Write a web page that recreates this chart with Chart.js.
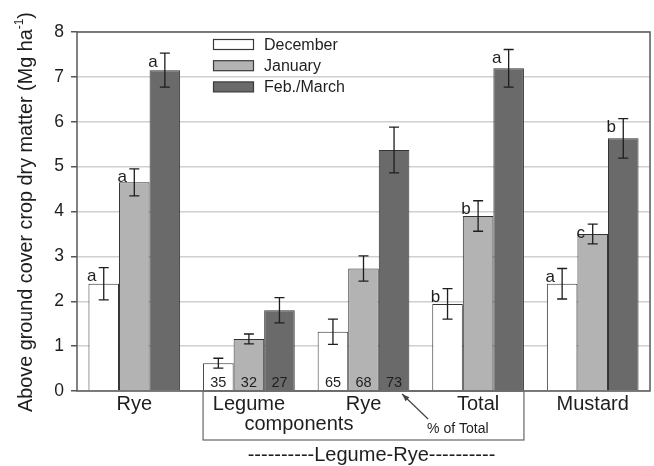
<!DOCTYPE html>
<html>
<head>
<meta charset="utf-8">
<script src="https://cdn.jsdelivr.net/npm/chart.js@4.4.0/dist/chart.umd.min.js"></script>
<style>
  html, body { margin: 0; padding: 0; background: #fff; }
  #wrap { width: 654px; height: 466px; }
</style>
</head>
<body>
<div id="wrap"><canvas id="chart" width="654" height="466"></canvas></div>
<script>
const categories = ["Rye", "Legume", "Rye", "Total", "Mustard"];
const subLabel = "components";
const groupLabel = "----------Legume-Rye----------";
const seriesNames = ["December", "January", "Feb./March"];
const decValues = [2.39, 0.62, 1.32, 1.94, 2.39];
const janValues = [4.65, 1.16, 2.73, 3.90, 3.50];
const febValues = [7.15, 1.80, 5.37, 7.19, 5.63];
const decErrors = [0.36, 0.11, 0.28, 0.34, 0.34];
const janErrors = [0.30, 0.11, 0.28, 0.34, 0.22];
const febErrors = [0.38, 0.28, 0.51, 0.42, 0.44];
const decLetters = ["a", "", "", "b", "a"];
const janLetters = ["a", "", "", "b", "c"];
const febLetters = ["a", "", "", "a", "b"];
const decPercent = ["", "35", "65", "", ""];
const janPercent = ["", "32", "68", "", ""];
const febPercent = ["", "27", "73", "", ""];
const yMin = 0, yMax = 8, yStep = 1;

const FONT = "'Liberation Sans', Arial, sans-serif";
const INK = "#1e1e1e";
const fills = ["#ffffff", "#b3b3b3", "#6a6a6a"];
const errors = [decErrors, janErrors, febErrors];
const letters = [decLetters, janLetters, febLetters];
const percents = [decPercent, janPercent, febPercent];

// error bars, significance letters, % of total numbers
const barExtras = {
  id: "barExtras",
  afterDatasetsDraw(chart) {
    const ctx = chart.ctx;
    const y = chart.scales.y;
    const area = chart.chartArea;
    ctx.save();
    chart.data.datasets.forEach((ds, di) => {
      chart.getDatasetMeta(di).data.forEach((bar, i) => {
        const v = ds.data[i], e = errors[di][i];
        const top = y.getPixelForValue(v + e);
        const bot = y.getPixelForValue(v - e);
        ctx.strokeStyle = INK;
        ctx.lineWidth = 1.3;
        ctx.beginPath();
        ctx.moveTo(bar.x, top); ctx.lineTo(bar.x, bot);
        ctx.moveTo(bar.x - 5, top); ctx.lineTo(bar.x + 5, top);
        ctx.moveTo(bar.x - 5, bot); ctx.lineTo(bar.x + 5, bot);
        ctx.stroke();
        ctx.fillStyle = INK;
        ctx.textAlign = "center";
        ctx.textBaseline = "alphabetic";
        if (letters[di][i]) {
          ctx.font = "17px " + FONT;
          ctx.fillText(letters[di][i], bar.x - 12, top + 13.5);
        }
        if (percents[di][i]) {
          ctx.font = "14.5px " + FONT;
          ctx.fillText(percents[di][i], bar.x, area.bottom - 4);
        }
      });
    });
    ctx.restore();
  },
  afterDraw(chart) {
    const ctx = chart.ctx;
    const a = chart.chartArea;
    const xs = chart.scales.x;
    ctx.save();
    // plot frame
    ctx.strokeStyle = "#5a5a5a";
    ctx.lineWidth = 1.5;
    ctx.strokeRect(a.left, a.top, a.right - a.left, a.bottom - a.top);

    // legend
    ctx.font = "16px " + FONT;
    ctx.textAlign = "left";
    ctx.textBaseline = "alphabetic";
    seriesNames.forEach((name, i) => {
      const by = 39.5 + i * 21.2;
      ctx.fillStyle = fills[i];
      ctx.fillRect(213.5, by, 40, 10);
      ctx.strokeStyle = "#3a3a3a";
      ctx.lineWidth = 1.2;
      ctx.strokeRect(213.5, by, 40, 10);
      ctx.fillStyle = INK;
      ctx.fillText(name, 264, by + 10.5);
    });

    // second line of the legume label
    ctx.font = "20px " + FONT;
    ctx.textAlign = "center";
    ctx.fillText(subLabel, xs.getPixelForValue(1) + 50, 430);

    // Legume-Rye box
    const m0 = chart.getDatasetMeta(0).data[1];
    const m2 = chart.getDatasetMeta(2).data[3];
    const x1 = m0.x - m0.width / 2;
    const x2 = m2.x + m2.width / 2;
    ctx.strokeStyle = "#666";
    ctx.lineWidth = 1.2;
    ctx.strokeRect(x1, a.bottom, x2 - x1, 49);
    ctx.font = "20px " + FONT;
    ctx.fillText(groupLabel, (x1 + x2) / 2 + 8, 460.5);

    // % of Total arrow
    const tb = chart.getDatasetMeta(2).data[2];
    const tipX = tb.x + 8, tipY = a.bottom + 3;
    const tailX = tipX + 26, tailY = tipY + 25;
    ctx.strokeStyle = "#444";
    ctx.lineWidth = 1.2;
    ctx.beginPath();
    ctx.moveTo(tailX, tailY); ctx.lineTo(tipX, tipY);
    ctx.stroke();
    const ang = Math.atan2(tipY - tailY, tipX - tailX);
    ctx.fillStyle = "#444";
    ctx.beginPath();
    ctx.moveTo(tipX, tipY);
    ctx.lineTo(tipX - 8 * Math.cos(ang - 0.35), tipY - 8 * Math.sin(ang - 0.35));
    ctx.lineTo(tipX - 8 * Math.cos(ang + 0.35), tipY - 8 * Math.sin(ang + 0.35));
    ctx.closePath();
    ctx.fill();
    ctx.fillStyle = INK;
    ctx.font = "14px " + FONT;
    ctx.textAlign = "left";
    ctx.fillText("% of Total", tailX - 1, tailY + 14);

    // y axis title with superscript
    const main = "Above ground cover crop dry matter (Mg ha";
    ctx.translate(27, 212);
    ctx.rotate(-Math.PI / 2);
    ctx.font = "19.8px " + FONT;
    const wMain = ctx.measureText(main).width;
    const wClose = ctx.measureText(")").width;
    ctx.font = "12px " + FONT;
    const wSup = ctx.measureText("-1").width;
    let x = -(wMain + wSup + wClose) / 2;
    ctx.textBaseline = "middle";
    ctx.font = "19.8px " + FONT;
    ctx.fillText(main, x, 0);
    x += wMain;
    ctx.font = "12px " + FONT;
    ctx.fillText("-1", x, -7);
    x += wSup;
    ctx.font = "19.8px " + FONT;
    ctx.fillText(")", x, 0);
    ctx.restore();
  }
};

const datasets = [decValues, janValues, febValues].map((vals, i) => ({
  label: seriesNames[i],
  data: vals,
  backgroundColor: fills[i],
  borderColor: "#333",
  borderWidth: 1,
  categoryPercentage: 0.8,
  barPercentage: 1.0,
}));

new Chart(document.getElementById("chart").getContext("2d"), {
  type: "bar",
  data: { labels: categories, datasets: datasets },
  options: {
    responsive: false,
    animation: false,
    devicePixelRatio: 1,
    layout: { padding: { left: 0, top: 32, right: 4, bottom: 0 } },
    plugins: { legend: { display: false }, tooltip: { enabled: false } },
    scales: {
      x: {
        grid: { display: false },
        border: { display: false },
        ticks: { font: { size: 20, family: FONT, lineHeight: 1.1 }, color: INK, padding: -6, maxRotation: 0 },
        afterFit(s) { s.height = 75; },
      },
      y: {
        min: yMin,
        max: yMax,
        ticks: { stepSize: yStep, font: { size: 17.5, family: FONT }, color: INK, padding: 7 },
        grid: { color: "#d0d0d0", lineWidth: 1.5, tickLength: 6, tickColor: "#555" },
        border: { display: false },
        afterFit(s) { s.width = 77; },
      },
    },
  },
  plugins: [barExtras],
});
</script>
</body>
</html>
